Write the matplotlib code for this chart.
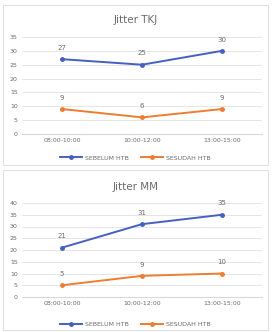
import matplotlib.pyplot as plt
from matplotlib.patches import Rectangle

times = ['08:00-10:00', '10:00-12:00', '13:00-15:00']
tkj_sebelum = [27, 25, 30]
tkj_sesudah = [9, 6, 9]
mm_sebelum = [21, 31, 35]
mm_sesudah = [5, 9, 10]

blue = '#4560C0'
orange = '#ED7D31'
grey = '#6b6b6b'

fig = plt.figure(figsize=(2.72, 3.32), dpi=100)
W, H = 272, 332


def px(x0, y0, w, h):
    return [x0 / W, 1 - (y0 + h) / H, w / W, h / H]


def chart(box, area, title, seb, ses, ymax, title_y, legend_y):
    fig.patches.append(Rectangle((box[0] / W, 1 - (box[1] + box[3]) / H), box[2] / W, box[3] / H,
                                 transform=fig.transFigure, fill=False, ec='#e0e0e0', lw=0.8))
    ax = fig.add_axes(px(*area))
    x = list(range(len(times)))
    l1, = ax.plot(x, seb, color=blue, lw=1.4, marker='o', ms=2.5, label='SEBELUM HTB')
    l2, = ax.plot(x, ses, color=orange, lw=1.4, marker='o', ms=2.5, label='SESUDAH HTB')
    for xi, v in zip(x, seb):
        ax.annotate(str(v), (xi, v), xytext=(0, 6), textcoords='offset points',
                    ha='center', va='bottom', fontsize=5, color=grey)
    for xi, v in zip(x, ses):
        ax.annotate(str(v), (xi, v), xytext=(0, 6), textcoords='offset points',
                    ha='center', va='bottom', fontsize=5, color=grey)
    ax.set_xlim(-0.5, 2.5)
    ax.set_ylim(0, ymax)
    ax.set_yticks(range(0, ymax + 1, 5))
    ax.set_xticks(x)
    ax.set_xticklabels(times)
    ax.tick_params(labelsize=4.5, colors=grey, length=0, pad=3)
    ax.grid(axis='y', color='#e0e0e0', lw=0.6)
    ax.set_axisbelow(True)
    for s in ax.spines.values():
        s.set_visible(False)
    ax.spines['bottom'].set_visible(True)
    ax.spines['bottom'].set_color('#d9d9d9')
    fig.text((box[0] + box[2] / 2) / W, 1 - title_y / H, title, ha='center', va='center',
             fontsize=7.5, color=grey)
    fig.legend(handles=[l1, l2], loc='center', bbox_to_anchor=((box[0] + box[2] / 2) / W, 1 - legend_y / H),
               ncol=2, frameon=False, fontsize=4.5, labelcolor=grey, handlelength=3.5,
               columnspacing=2, handletextpad=0.5)


chart((3, 5, 265, 160), (22, 37, 240, 97), 'Jitter TKJ', tkj_sebelum, tkj_sesudah, 35, 20, 158)
chart((3, 170, 265, 160), (22, 203, 240, 94), 'Jitter MM', mm_sebelum, mm_sesudah, 40, 187, 324)

fig.savefig('out.png', dpi=100)
